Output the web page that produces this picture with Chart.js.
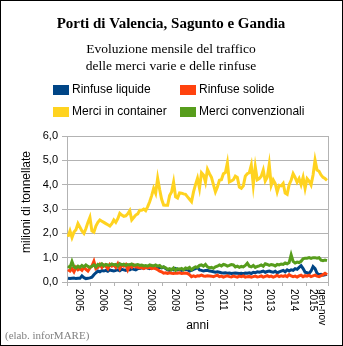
<!DOCTYPE html>
<html>
<head>
<meta charset="utf-8">
<script src="https://cdn.jsdelivr.net/npm/chart.js@4/dist/chart.umd.min.js"></script>
<style>
  body { margin: 0; background: #fff; }
  canvas { display: block; }
</style>
</head>
<body>
<canvas id="grafico" width="343" height="346"></canvas>
<script>
// etichette degli anni sull'asse x (l'ultimo e' parziale: gen-nov 2015)
const anni = ['2005', '2006', '2007', '2008', '2009', '2010', '2011', '2012', '2013', '2014', ['gen-nov', '2015']];
const mesiPerAnno = [12, 12, 12, 12, 12, 12, 12, 12, 12, 12, 11];
const ticksY = [0, 1, 2, 3, 4, 5, 6];

// milioni di tonnellate, un valore per mese
const rinfuseLiquide = [
  0.15, 0.14, 0.15, 0.16, 0.14, 0.15, 0.15, 0.25, 0.18, 0.14, 0.15, 0.17,
  0.20, 0.30, 0.38, 0.45, 0.42, 0.47, 0.45, 0.48, 0.44, 0.50, 0.47, 0.45,
  0.48, 0.50, 0.46, 0.52, 0.50, 0.48, 0.53, 0.50, 0.55, 0.52, 0.50, 0.55,
  0.55, 0.58, 0.56, 0.60, 0.57, 0.55, 0.58, 0.60, 0.56, 0.59, 0.60, 0.58,
  0.62, 0.55, 0.50, 0.48, 0.52, 0.50, 0.55, 0.50, 0.52, 0.48, 0.50, 0.52,
  0.50, 0.45, 0.48, 0.52, 0.55, 0.60, 0.50, 0.48, 0.45, 0.47, 0.48, 0.45,
  0.44, 0.42, 0.40, 0.42, 0.40, 0.38, 0.37, 0.38, 0.36, 0.37, 0.35, 0.36,
  0.37, 0.36, 0.35, 0.36, 0.34, 0.37, 0.36, 0.38, 0.35, 0.40, 0.38, 0.42,
  0.40, 0.42, 0.45, 0.40, 0.43, 0.45, 0.42, 0.40, 0.44, 0.38, 0.42, 0.45,
  0.48, 0.42, 0.50, 0.45, 0.50, 0.48, 0.55, 0.52, 0.60, 0.67, 0.55, 0.40,
  0.38, 0.35, 0.45, 0.63, 0.55, 0.36, 0.30, 0.32, 0.28, 0.30, 0.32
];
const rinfuseSolide = [
  0.50, 0.45, 0.55, 0.42, 0.60, 0.50, 0.55, 0.48, 0.60, 0.52, 0.45, 0.58,
  0.65, 0.85, 0.55, 0.60, 0.72, 0.60, 0.70, 0.65, 0.55, 0.72, 0.65, 0.70,
  0.60, 0.75, 0.55, 0.70, 0.65, 0.72, 0.50, 0.68, 0.60, 0.70, 0.62, 0.60,
  0.58, 0.60, 0.55, 0.60, 0.58, 0.60, 0.55, 0.57, 0.55, 0.50, 0.45, 0.42,
  0.36, 0.38, 0.35, 0.38, 0.36, 0.35, 0.37, 0.36, 0.38, 0.35, 0.36, 0.37,
  0.35, 0.30, 0.22, 0.25, 0.22, 0.26, 0.25, 0.28, 0.25, 0.24, 0.26, 0.25,
  0.24, 0.22, 0.25, 0.28, 0.22, 0.24, 0.20, 0.23, 0.25, 0.22, 0.21, 0.24,
  0.22, 0.20, 0.24, 0.22, 0.25, 0.20, 0.22, 0.23, 0.20, 0.22, 0.24, 0.21,
  0.22, 0.25, 0.20, 0.23, 0.26, 0.22, 0.24, 0.20, 0.23, 0.28, 0.22, 0.25,
  0.23, 0.26, 0.22, 0.30, 0.25, 0.22, 0.24, 0.20, 0.25, 0.28, 0.22, 0.26,
  0.24, 0.28, 0.22, 0.25, 0.28, 0.24, 0.22, 0.26, 0.30, 0.36, 0.30
];
const merciContainer = [
  1.86, 2.10, 1.83, 2.05, 2.15, 2.40, 2.25, 2.10, 2.00, 2.20, 2.45, 2.66,
  2.10, 2.05, 2.30, 2.45, 2.55, 2.50, 2.45, 2.40, 2.35, 2.30, 2.40, 2.55,
  2.45, 2.60, 2.82, 2.75, 2.70, 2.72, 2.80, 2.93, 2.55, 2.65, 2.75, 2.80,
  2.95, 2.95, 3.00, 2.93, 3.10, 3.30, 3.55, 3.85, 3.65, 4.26, 3.80, 3.40,
  3.16, 3.15, 3.15, 3.55, 3.70, 4.11, 3.50, 3.45, 3.66, 3.65, 3.62, 3.60,
  3.50, 3.40, 3.30, 3.70, 4.00, 4.26, 3.85, 4.49, 4.40, 4.10, 4.63, 4.45,
  4.30, 4.00, 3.70, 3.90, 4.18, 4.20, 4.45, 4.50, 4.90, 4.11, 4.15, 4.20,
  4.35, 4.30, 3.90, 3.85, 3.95, 4.35, 4.45, 4.49, 4.80, 3.99, 4.73, 4.20,
  4.25, 4.35, 4.60, 4.15, 4.30, 4.83, 3.97, 4.20, 4.05, 3.70, 3.97, 3.95,
  4.05, 3.65, 3.60, 4.00, 4.18, 4.45, 4.30, 4.10, 4.25, 4.00, 4.30, 3.85,
  4.25, 4.15, 3.99, 4.40, 5.01, 4.60, 4.55, 4.40, 4.30, 4.25, 4.18
];
const merciConvenzionali = [
  0.66, 0.60, 0.84, 0.62, 0.58, 0.65, 0.60, 0.68, 0.62, 0.70, 0.64, 0.60,
  0.65, 0.70, 0.62, 0.72, 0.68, 0.75, 0.66, 0.72, 0.70, 0.68, 0.74, 0.70,
  0.72, 0.65, 0.75, 0.70, 0.73, 0.68, 0.72, 0.70, 0.74, 0.68, 0.70, 0.72,
  0.68, 0.70, 0.66, 0.68, 0.65, 0.70, 0.68, 0.66, 0.70, 0.65, 0.68, 0.60,
  0.62, 0.58, 0.52, 0.55, 0.50, 0.58, 0.48, 0.55, 0.52, 0.56, 0.50, 0.58,
  0.55, 0.60, 0.50, 0.58, 0.62, 0.60, 0.68, 0.70, 0.65, 0.72, 0.62, 0.58,
  0.60, 0.56, 0.62, 0.65, 0.70, 0.66, 0.72, 0.70, 0.65, 0.68, 0.72, 0.70,
  0.62, 0.65, 0.60, 0.64, 0.62, 0.68, 0.77, 0.65, 0.62, 0.68, 0.60, 0.64,
  0.66, 0.70, 0.65, 0.75, 0.72, 0.68, 0.72, 0.70, 0.66, 0.72, 0.70, 0.74,
  0.72, 0.78, 0.75, 0.80, 1.12, 0.85, 0.78, 0.82, 0.80, 0.85, 0.95, 0.98,
  0.98, 1.00, 0.97, 1.00, 1.00, 0.98, 1.00, 0.90, 0.88, 0.90, 0.88
];

// confini degli anni in mesi: 0, 12, 24 ... 131
const confini = [0];
mesiPerAnno.forEach(m => confini.push(confini[confini.length - 1] + m));
const totaleMesi = confini[confini.length - 1];

function punti(valori) {
  return valori.map((v, i) => ({ x: i + 0.5, y: v }));
}

const grigio = '#b3b3b3';
const sans = 'Liberation Sans, Arial, sans-serif';
const serif = 'Liberation Serif, Times New Roman, serif';

// titoli, legenda, etichette degli anni e cornice
const cornice = {
  id: 'cornice',
  beforeDraw(chart) {
    const ctx = chart.ctx;
    ctx.save();
    ctx.fillStyle = '#fff';
    ctx.fillRect(0, 0, chart.width, chart.height);
    ctx.restore();
  },
  afterDraw(chart) {
    const ctx = chart.ctx;
    const area = chart.chartArea;
    ctx.save();

    ctx.fillStyle = '#000';
    ctx.textAlign = 'center';
    ctx.textBaseline = 'middle';
    ctx.font = 'bold 15px ' + serif;
    ctx.fillText('Porti di Valencia, Sagunto e Gandia', 171, 24);
    ctx.font = '13.5px ' + serif;
    ctx.fillText('Evoluzione mensile del traffico', 171, 49);
    ctx.fillText('delle merci varie e delle rinfuse', 171, 66);

    // legenda su due colonne
    const colonne = [53, 180];
    const righe = [90, 112];
    ctx.font = '12px ' + sans;
    ctx.textAlign = 'left';
    chart.data.datasets.forEach((ds, i) => {
      const x = colonne[i % 2];
      const y = righe[Math.floor(i / 2)];
      ctx.fillStyle = ds.borderColor;
      ctx.fillRect(x, y - 5, 16, 10);
      ctx.fillStyle = '#000';
      ctx.fillText(ds.label, x + 19, y);
    });

    // titolo asse y
    ctx.save();
    ctx.translate(27, 202);
    ctx.rotate(-Math.PI / 2);
    ctx.textAlign = 'center';
    ctx.font = '12px ' + sans;
    ctx.fillText('milioni di tonnellate', 0, 0);
    ctx.restore();

    // anni, ruotati di 90 gradi
    const sx = chart.scales.x;
    ctx.font = '10px ' + sans;
    anni.forEach((anno, k) => {
      const centro = sx.getPixelForValue((confini[k] + confini[k + 1]) / 2);
      const righeTesto = Array.isArray(anno) ? anno : [anno];
      ctx.save();
      ctx.translate(centro, area.bottom + 7);
      ctx.rotate(Math.PI / 2);
      ctx.textAlign = 'left';
      righeTesto.forEach((t, j) => {
        const dy = (j - (righeTesto.length - 1) / 2) * 9;
        ctx.fillText(t, 0, dy);
      });
      ctx.restore();
    });

    ctx.textAlign = 'center';
    ctx.font = '12px ' + sans;
    ctx.fillText('anni', (area.left + area.right) / 2, 326);

    ctx.textAlign = 'left';
    ctx.fillStyle = '#808080';
    ctx.font = '11px ' + serif;
    ctx.fillText('(elab. inforMARE)', 5, 336);

    ctx.strokeStyle = '#000';
    ctx.lineWidth = 1;
    ctx.strokeRect(0.5, 0.5, chart.width - 1, chart.height - 1);
    ctx.restore();
  }
};

function serie(label, valori, colore, ordine) {
  return {
    label: label,
    data: punti(valori),
    borderColor: colore,
    backgroundColor: colore,
    borderWidth: 3,
    pointRadius: 0,
    tension: 0,
    order: ordine
  };
}

new Chart(document.getElementById('grafico'), {
  type: 'line',
  data: {
    datasets: [
      serie('Rinfuse liquide', rinfuseLiquide, '#004586', 4),
      serie('Rinfuse solide', rinfuseSolide, '#ff420e', 3),
      serie('Merci in container', merciContainer, '#ffd320', 2),
      serie('Merci convenzionali', merciConvenzionali, '#579d1c', 1)
    ]
  },
  options: {
    responsive: false,
    animation: false,
    devicePixelRatio: 1,
    layout: { padding: { left: 20, right: 15, top: 136, bottom: 0 } },
    plugins: {
      legend: { display: false },
      tooltip: { enabled: false }
    },
    scales: {
      x: {
        type: 'linear',
        min: 0,
        max: totaleMesi,
        afterBuildTicks: axis => { axis.ticks = confini.map(v => ({ value: v })); },
        afterFit: scale => { scale.height = 64; },
        ticks: { display: false },
        grid: {
          color: c => (c.tick && c.tick.value === totaleMesi) ? grigio : 'rgba(0,0,0,0)',
          tickColor: grigio,
          tickLength: 4
        },
        border: { color: grigio }
      },
      y: {
        min: 0,
        max: 6,
        afterBuildTicks: axis => { axis.ticks = ticksY.map(v => ({ value: v })); },
        afterFit: scale => { scale.width = 47; },
        ticks: {
          color: '#000',
          padding: 4,
          font: { family: sans, size: 11 },
          callback: v => v.toFixed(1).replace('.', ',')
        },
        grid: { color: grigio, tickLength: 5 },
        border: { color: grigio }
      }
    }
  },
  plugins: [cornice]
});
</script>
</body>
</html>
